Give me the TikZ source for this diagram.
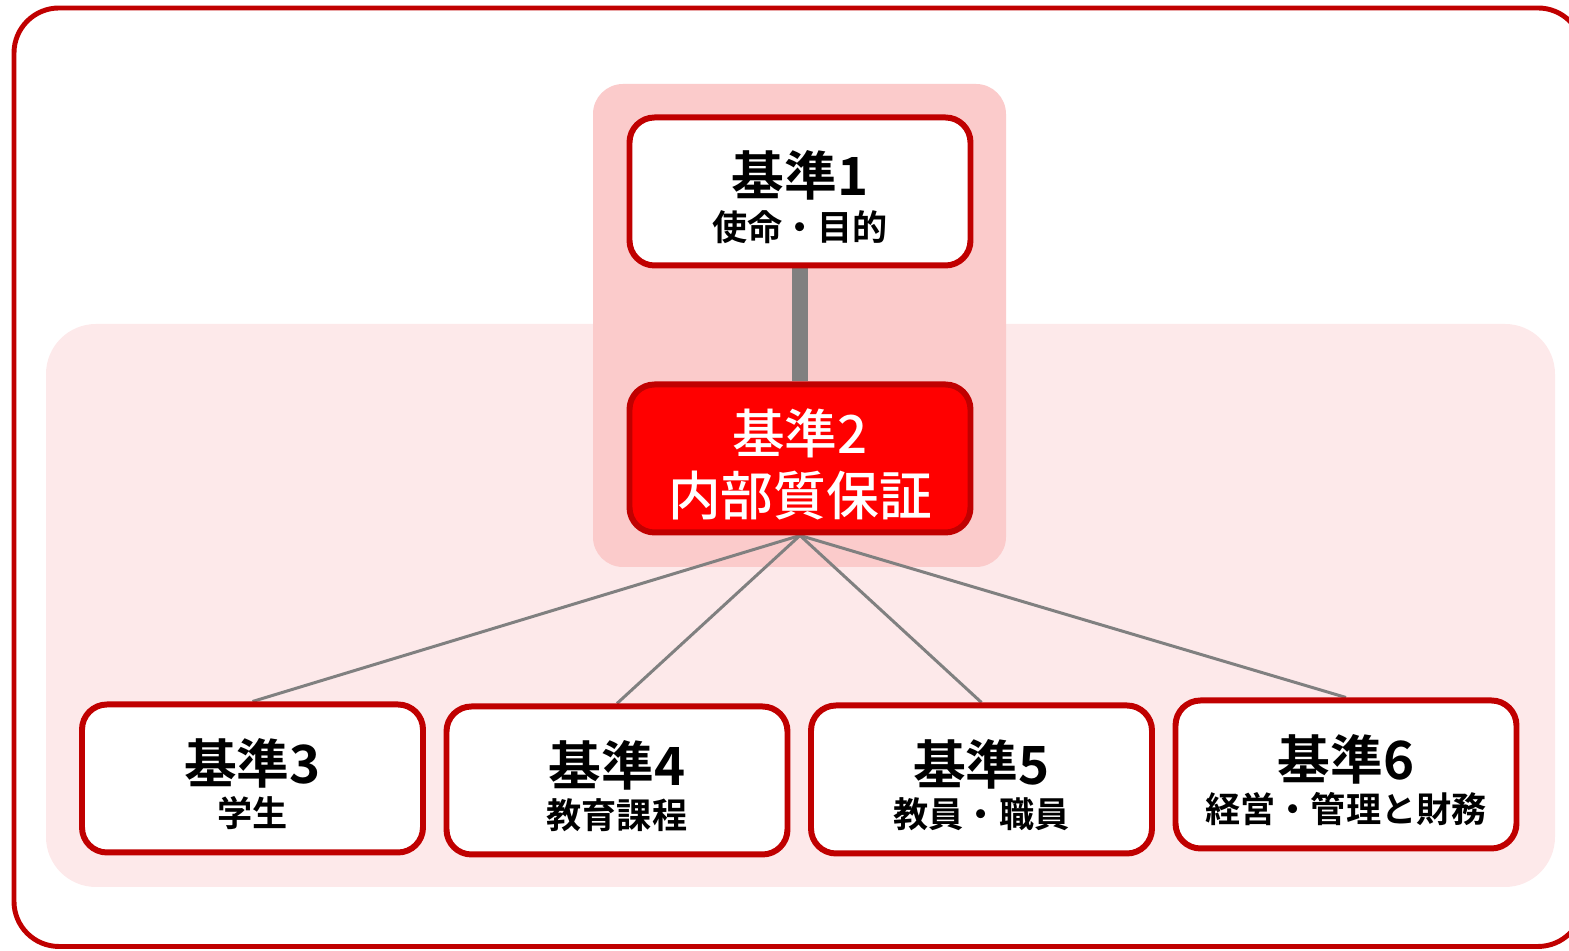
\documentclass[tikz,border=0pt]{standalone}
\usepackage{fontspec}
\setmainfont{Noto Sans CJK JP}[BoldFont={Noto Sans CJK JP Bold}]
\newfontfamily\critmedium{Noto Sans CJK JP Medium}
\usepackage{tikz}
\usetikzlibrary{calc}

\definecolor{critred}{HTML}{C00000}
\definecolor{panelpink}{HTML}{FDE9EA}
\definecolor{corepink}{HTML}{FBCBCB}
\definecolor{linkgray}{HTML}{808080}

\pgfdeclarelayer{panel}
\pgfdeclarelayer{edge}
\pgfsetlayers{panel,edge,main}

\newcommand{\crithead}[1]{{\fontsize{15pt}{15pt}\selectfont #1}}
\newcommand{\critsub}[1]{{\fontsize{10pt}{10pt}\selectfont #1}}

\tikzset{
  critbox/.style={draw=critred, line width=1.7pt, fill=white, rounded corners=0.25cm,
    minimum width=3.41cm, minimum height=1.48cm, inner sep=0pt, align=center,
    text height=29pt, font=\bfseries\fontsize{15pt}{12.8pt}\selectfont},
  corebox/.style={critbox, fill=red, text=white, text height=34pt,
    font=\critmedium\fontsize{15pt}{17.9pt}\selectfont},
  lowbox/.style={critbox, text height=28pt, font=\bfseries\fontsize{15pt}{12.2pt}\selectfont},
  link/.style={draw=linkgray, line width=0.85pt}
}

\begin{document}
\begin{tikzpicture}
    \useasboundingbox (0,0) rectangle (15.69,-9.51);
    \clip (0,0) rectangle (15.69,-9.51);
    \draw[critred, line width=1.4pt, rounded corners=0.45cm] (0.14,-0.08) rectangle (15.83,-9.465);
    \begin{pgfonlayer}{panel}
      \fill[panelpink, rounded corners=0.5cm] (0.46,-3.24) rectangle (15.55,-8.87);
      \fill[corepink, rounded corners=0.3cm] (5.93,-0.84) rectangle (10.06,-5.67);
    \end{pgfonlayer}
    \node[critbox] (c1) at (8,-1.915) {\crithead{基準1}\\\critsub{使命・目的}};
    \node[corebox] (c2) at (8,-4.585) {\crithead{基準2}\\\crithead{内部質保証}};
    \node[lowbox] (c3) at (2.525,-7.785) {\crithead{基準3}\\\critsub{学生}};
    \node[lowbox] (c4) at (6.17,-7.805) {\crithead{基準4}\\\critsub{教育課程}};
    \node[lowbox] (c5) at (9.815,-7.795) {\crithead{基準5}\\\critsub{教員・職員}};
    \node[lowbox] (c6) at (13.46,-7.745) {\crithead{基準6}\\\critsub{経営・管理と財務}};
    \begin{pgfonlayer}{edge}
      \draw[linkgray, line width=4.8pt] (c1.south) -- (c2.north);
      \foreach \i in {3,4,5,6}
      {
        \draw[link] (c2.south) -- (c\i.north);
      }
    \end{pgfonlayer}
  \end{tikzpicture}
\end{document}
